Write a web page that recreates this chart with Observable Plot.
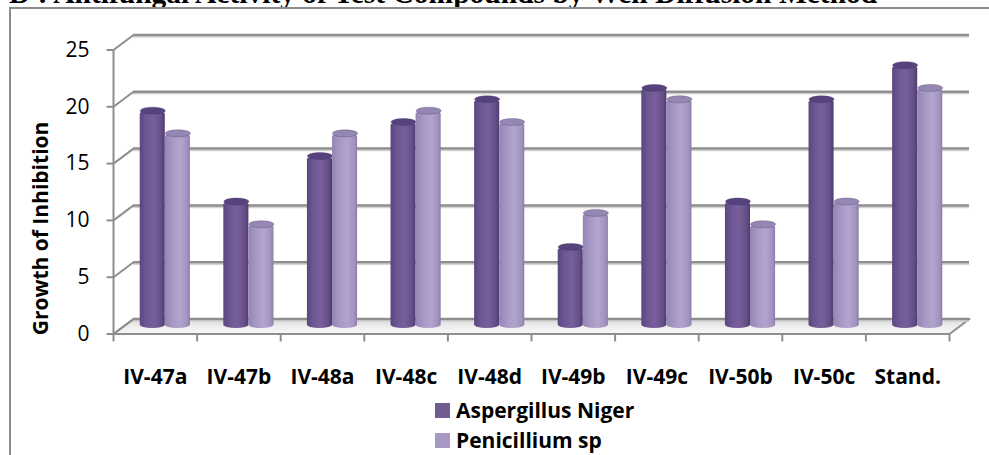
<!DOCTYPE html>
<html><head><meta charset="utf-8">
<script src="https://cdn.jsdelivr.net/npm/d3@7"></script>
<script src="https://cdn.jsdelivr.net/npm/@observablehq/plot@0.6"></script>
<style>
body{margin:0;background:#fff;}
#wrap{position:relative;width:989px;height:455px;overflow:hidden;background:#fff;font-family:"Open Sans",sans-serif;}
#title{position:absolute;left:9px;top:-21px;font:bold 29.5px "Liberation Serif",serif;line-height:29px;white-space:nowrap;color:#000;}
#frame{position:absolute;left:9px;top:7px;width:1000px;height:460px;border-left:2px solid #8c8c8c;border-top:2px solid #8c8c8c;}
#chart{position:absolute;left:0;top:0;}
#legend{position:absolute;left:435px;top:395px;font:bold 21px "Open Sans",sans-serif;color:#000;}
.li{display:flex;align-items:center;height:30px;white-space:nowrap;}
.sw{width:15px;height:15px;margin-right:6px;flex:none;}
</style></head>
<body>
<div id="wrap">
  <div id="title">D : Antifungal Activity of Test Compounds by Well Diffusion Method</div>
  <div id="frame"></div>
  <div id="chart"></div>
  <div id="legend"></div>
</div>
<script>
// ---- data ----
const categories = ["IV-47a","IV-47b","IV-48a","IV-48c","IV-48d","IV-49b","IV-49c","IV-50b","IV-50c","Stand."];
const aspergillusNiger = [19, 11, 15, 18, 20, 7, 21, 11, 20, 23];
const penicilliumSp    = [17, 9, 17, 19, 18, 10, 20, 9, 11, 21];
const seriesNames = ["Aspergillus Niger", "Penicillium sp"];
const yTicks = [0, 5, 10, 15, 20, 25];
const yTitle = "Growth of Inhibition";

// ---- layout / style ----
const W = 989, H = 392;
const mL = 123, mR = 30, mT = 42, mB = H - 326;
const n = categories.length;
const pxPerX = (W - mL - mR) / n, pxPerY = (H - mB - mT) / 25;
const depthPxX = 10, depthPxY = 7.5; // half-depth of 3D box
const ux = depthPxX / pxPerX;
const uy = depthPxY / pxPerY;
const tickX = 7 / pxPerX, tickY = 8 / pxPerY;
const grid = "#8e8e8e";
const darkCap = "#56427c", lightCap = "#9487b3";

const idx = categories.map((_, i) => i);
const series = [
  {values: aspergillusNiger, x0: 0.2, fill: "url(#gDark)", cap: darkCap},
  {values: penicilliumSp, x0: 0.5, fill: "url(#gLight)", cap: lightCap}
];
const barW = 0.3;
const capR = barW * pxPerX / 2;

const ellipseSymbol = {
  draw(context, size) {
    const rx = Math.sqrt(size / Math.PI), ry = rx * 0.28, k = 0.5523;
    context.moveTo(-rx, 0);
    context.bezierCurveTo(-rx, -ry * k, -rx * k, -ry, 0, -ry);
    context.bezierCurveTo(rx * k, -ry, rx, -ry * k, rx, 0);
    context.bezierCurveTo(rx, ry * k, rx * k, ry, 0, ry);
    context.bezierCurveTo(-rx * k, ry, -rx, ry * k, -rx, 0);
    context.closePath();
  }
};

const floor = [
  {x: -ux, y: -uy}, {x: n - ux, y: -uy}, {x: n + ux, y: uy}, {x: ux, y: uy}
];
const xBounds = d3.range(n + 1);

const barMarks = [];
for (const s of series) {
  barMarks.push(Plot.rectY(idx, {
    x1: i => i + s.x0, x2: i => i + s.x0 + barW, y1: 0, y2: i => s.values[i],
    fill: s.fill, rx: capR, ry: 3.5, insetBottom: -2
  }));
  barMarks.push(Plot.dot(idx, {
    x: i => i + s.x0 + barW / 2, y: i => s.values[i],
    r: capR, symbol: ellipseSymbol, fill: s.cap, stroke: "#4a3a66", strokeWidth: 0.6, strokeOpacity: 0.5
  }));
}

const chart = Plot.plot({
  width: W, height: H,
  marginLeft: mL, marginRight: mR, marginTop: mT, marginBottom: mB,
  style: {background: "transparent", fontFamily: "'Open Sans', sans-serif", overflow: "visible"},
  x: {domain: [0, n], axis: null},
  y: {domain: [0, 25], axis: null},
  marks: [
    // floor
    Plot.line(floor, {x: "x", y: "y", curve: "linear-closed", fill: "url(#gFloor)", stroke: grid, strokeWidth: 2}),
    // back wall gridlines (shadow + line)
    Plot.ruleY(yTicks, {y: d => d + uy, x1: ux, x2: n + ux, stroke: "#d4d4d4", strokeWidth: 1.5, dy: 2}),
    Plot.ruleY(yTicks, {y: d => d + uy, x1: ux, x2: n + ux, stroke: grid, strokeWidth: 2.5}),
    // side wall diagonals
    Plot.link(yTicks, {x1: -ux, y1: d => d - uy, x2: ux, y2: d => d + uy, stroke: grid, strokeWidth: 2}),
    // front y axis line and ticks
    Plot.ruleX([-ux], {y1: -uy, y2: 25 - uy, stroke: grid, strokeWidth: 2}),
    Plot.link(yTicks, {x1: -ux - tickX, x2: -ux, y1: d => d - uy, y2: d => d - uy, stroke: grid, strokeWidth: 2}),
    // x axis front line & ticks
    Plot.ruleY([-uy], {x1: -ux, x2: n - ux, stroke: grid, strokeWidth: 2}),
    Plot.ruleX(xBounds, {x: d => d - ux, y1: -uy, y2: -uy - tickY, stroke: grid, strokeWidth: 2}),
    ...barMarks,
    // labels
    Plot.text(yTicks, {x: -ux, y: d => d - uy, text: d => String(d), textAnchor: "end", dx: -24, fontSize: 21, fill: "#000"}),
    Plot.text(categories, {x: (d, i) => i + 0.5 - ux, y: -uy, text: d => d, dy: 43, fontSize: 21, fontWeight: "bold", fill: "#000"}),
    Plot.text([yTitle], {frameAnchor: "left", text: d => d, rotate: -90, textAnchor: "middle", dx: -82, dy: 44, fontSize: 21, fontWeight: "bold", fill: "#000"})
  ]
});

const ns = "http://www.w3.org/2000/svg";
const defs = document.createElementNS(ns, "defs");
defs.innerHTML = `
<linearGradient id="gDark" x1="0" x2="1" y1="0" y2="0">
  <stop offset="0" stop-color="#5b4680"/>
  <stop offset="0.25" stop-color="#6d5692"/>
  <stop offset="0.55" stop-color="#785f9c"/>
  <stop offset="0.85" stop-color="#664f88"/>
  <stop offset="1" stop-color="#4e3c6d"/>
</linearGradient>
<linearGradient id="gLight" x1="0" x2="1" y1="0" y2="0">
  <stop offset="0" stop-color="#9585b4"/>
  <stop offset="0.3" stop-color="#a797c5"/>
  <stop offset="0.6" stop-color="#b2a5cd"/>
  <stop offset="0.88" stop-color="#a293c0"/>
  <stop offset="1" stop-color="#8b7ca8"/>
</linearGradient>
<linearGradient id="gFloor" x1="0" x2="0" y1="0" y2="1">
  <stop offset="0" stop-color="#d8d8d8"/>
  <stop offset="0.5" stop-color="#eeeeee"/>
  <stop offset="1" stop-color="#f7f7f7"/>
</linearGradient>`;
chart.insertBefore(defs, chart.firstChild);
document.getElementById("chart").appendChild(chart);

// legend
const legend = document.getElementById("legend");
const swatchColors = ["#715b93", "#a798c4"];
seriesNames.forEach((name, i) => {
  const row = document.createElement("div");
  row.className = "li";
  const sw = document.createElement("div");
  sw.className = "sw";
  sw.style.background = swatchColors[i];
  const t = document.createElement("span");
  t.textContent = name;
  row.appendChild(sw); row.appendChild(t);
  legend.appendChild(row);
});
</script>
</body></html>
